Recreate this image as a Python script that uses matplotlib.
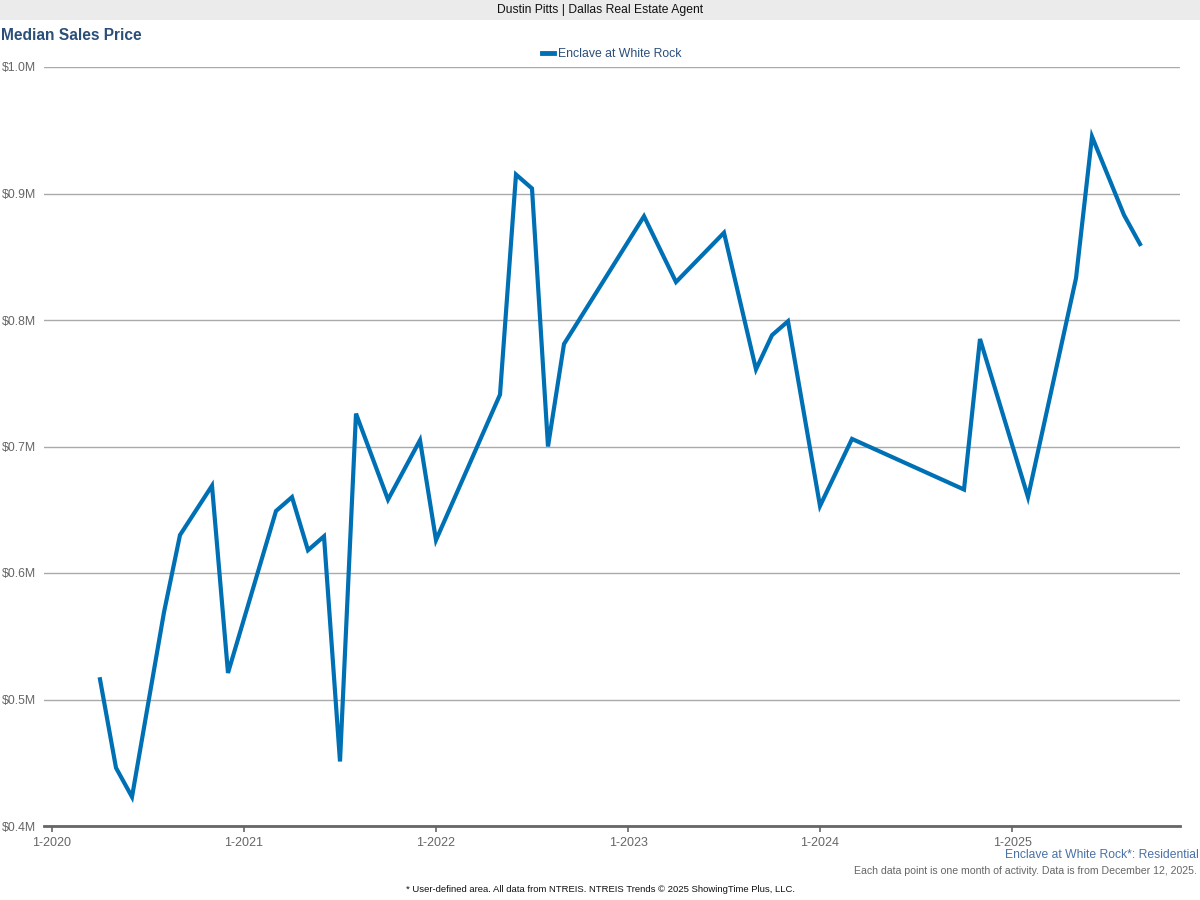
import pandas as pd
import numpy as np
import matplotlib
matplotlib.use('Agg')
import matplotlib.pyplot as plt
from matplotlib.patches import Rectangle
from matplotlib.ticker import FuncFormatter

plt.rcParams['font.family'] = ['Liberation Sans', 'DejaVu Sans']

# Monthly median sales price (months with no sales are skipped)
months = ['2020-04', '2020-05', '2020-06', '2020-08', '2020-09', '2020-11', '2020-12',
          '2021-03', '2021-04', '2021-05', '2021-06', '2021-07', '2021-08', '2021-10',
          '2021-12', '2022-01', '2022-05', '2022-06', '2022-07', '2022-08', '2022-09',
          '2023-02', '2023-04', '2023-07', '2023-09', '2023-10', '2023-11', '2024-01',
          '2024-03', '2024-10', '2024-11', '2025-02', '2025-05', '2025-06', '2025-08',
          '2025-09']
prices = [0.516, 0.446, 0.423, 0.569, 0.630, 0.669, 0.521,
          0.649, 0.660, 0.618, 0.629, 0.451, 0.726, 0.658,
          0.705, 0.626, 0.741, 0.915, 0.904, 0.700, 0.781,
          0.882, 0.830, 0.869, 0.761, 0.788, 0.799, 0.653,
          0.706, 0.666, 0.785, 0.660, 0.833, 0.945, 0.883,
          0.860]
tick_years = [2020, 2021, 2022, 2023, 2024, 2025]
y_ticks = [0.4, 0.5, 0.6, 0.7, 0.8, 0.9, 1.0]

series_name = 'Enclave at White Rock'
line_color = '#0070b5'

# month index counted from Jan 2020
dates = pd.to_datetime(months)
x = (dates.year - 2020) * 12 + (dates.month - 1)

fig = plt.figure(figsize=(12, 9), dpi=100)

# header band
fig.patches.append(Rectangle((0, 1 - 20 / 900), 1, 20 / 900, transform=fig.transFigure,
                             facecolor='#ebebeb', edgecolor='none', zorder=0))
fig.text(0.5, 1 - 10 / 900, 'Dustin Pitts | Dallas Real Estate Agent', ha='center', va='center',
         fontsize=8.7, color='#111111')
fig.text(1 / 1200, 1 - 35 / 900, 'Median Sales Price', ha='left', va='center',
         fontsize=11.2, fontweight='bold', color='#2b4f79')

ax = fig.add_axes([44 / 1200, 74 / 900, 1136 / 1200, 759 / 900])
ax.plot(x, prices, color=line_color, lw=3, solid_joinstyle='miter', label=series_name, zorder=3)

ax.set_xlim(-0.5, 70.5)
ax.set_ylim(0.4, 1.0)
ax.set_yticks(y_ticks)
ax.yaxis.set_major_formatter(FuncFormatter(lambda v, p: f'${v:.1f}M'))
ax.set_xticks([(yr - 2020) * 12 for yr in tick_years])
ax.set_xticklabels([f'1-{yr}' for yr in tick_years])

ax.grid(axis='y', color='#aaaaaa', lw=1)
ax.set_axisbelow(True)
for s in ['top', 'right', 'left']:
    ax.spines[s].set_visible(False)
ax.spines['bottom'].set_color('#666666')
ax.spines['bottom'].set_linewidth(2)
ax.spines['bottom'].set_zorder(4)
ax.tick_params(axis='y', length=0, pad=5.5, labelsize=8.8, labelcolor='#666666')
ax.tick_params(axis='x', length=4, width=1.2, color='#666666', pad=4, labelsize=9,
               labelcolor='#666666')

leg = ax.legend(loc='lower center', bbox_to_anchor=(0.5, 1.0), frameon=False, fontsize=8.8,
                handlelength=1.0, handletextpad=0.35, borderaxespad=0.15)
for t in leg.get_texts():
    t.set_color('#2b4f79')
for h in leg.get_lines():
    h.set_linewidth(3.5)

fig.text(1199 / 1200, 1 - 855 / 900, 'Enclave at White Rock*: Residential', ha='right', va='center',
         fontsize=8.7, color='#4a72a6')
fig.text(1197 / 1200, 1 - 871 / 900,
         'Each data point is one month of activity. Data is from December 12, 2025.',
         ha='right', va='center', fontsize=7.55, color='#666666')
fig.text(0.5, 1 - 889 / 900,
         '* User-defined area. All data from NTREIS. NTREIS Trends \u00a9 2025 ShowingTime Plus, LLC.',
         ha='center', va='center', fontsize=6.8, color='#111111')

fig.savefig('out.png', dpi=100)
